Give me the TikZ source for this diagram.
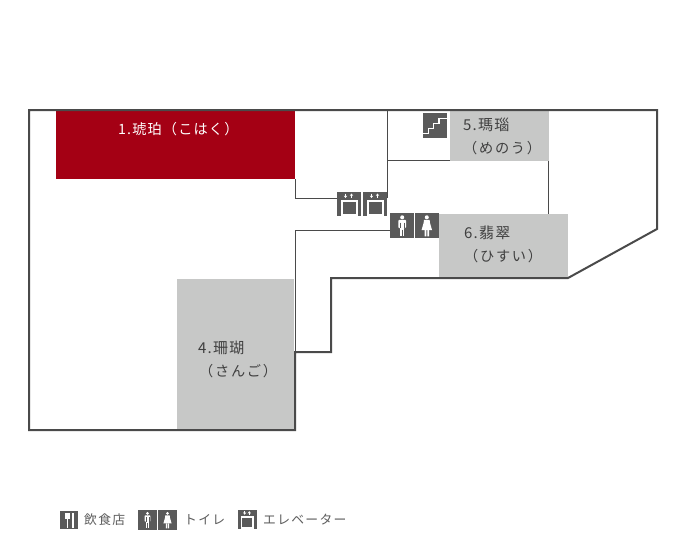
\documentclass[tikz,border=0pt]{standalone}
\usepackage{fontspec}
\usetikzlibrary{arrows.meta}
\newfontfamily\cjkn[LetterSpace=8]{Noto Sans CJK JP}
\newfontfamily\cjkw[LetterSpace=12]{Noto Sans CJK JP}
\newfontfamily\cjkl[LetterSpace=10]{Noto Sans CJK JP}
\definecolor{wallc}{HTML}{4A4A4A}
\definecolor{iconc}{HTML}{5A5A5A}
\definecolor{roomg}{HTML}{C7C8C7}
\definecolor{roomr}{HTML}{A40014}
\definecolor{labelc}{HTML}{3F3F3F}
\tikzset{
  wall/.style={draw=wallc,line width=2pt,line join=miter},
  thinwall/.style={draw=wallc,line width=1pt},
  roomlabel/.style={anchor=west,inner sep=0pt,text=labelc,font=\cjkw\fontsize{14.2}{14}\selectfont},
  roomtitle/.style={anchor=west,inner sep=0pt,text=labelc,font=\cjkn\fontsize{15}{15}\selectfont},
  firstlabel/.style={anchor=west,inner sep=0pt,text=white,font=\cjkn\fontsize{14.2}{14}\selectfont},
  legendlabel/.style={anchor=west,inner sep=0pt,text=labelc!85,font=\cjkl\fontsize{12.8}{13}\selectfont},
  liftarrow/.style={white,line width=0.7pt,-{Stealth[length=2.4pt,width=3.4pt]}},
}
\newcommand{\elevicon}[2]{%
  \begin{scope}[shift={(#1,#2)}]
    \fill[iconc] (0,0) rectangle (24,24);
    \draw[white,line width=1.8pt] (4.6,8.6) rectangle (19.6,22.6);
    \draw[liftarrow] (8.5,1.5) -- (8.5,6);
    \draw[liftarrow] (14.5,6) -- (14.5,1.5);
  \end{scope}}
\newcommand{\manicon}[2]{%
  \begin{scope}[shift={(#1,#2)}]
    \fill[iconc] (0,0) rectangle (24,25);
    \fill[white] (12.2,4.3) circle (2);
    \fill[white,rounded corners=0.8pt] (8.4,6.8) rectangle (16,15);
    \fill[white] (10,13) rectangle (14.4,23.4);
    \draw[iconc,line width=0.5pt] (12.2,16.5) -- (12.2,23.4);
    \draw[iconc,line width=0.5pt] (10,9.5) -- (10,15) (14.4,9.5) -- (14.4,15);
  \end{scope}}
\newcommand{\womanicon}[2]{%
  \begin{scope}[shift={(#1,#2)}]
    \fill[iconc] (0,0) rectangle (24,25);
    \fill[white] (11.8,4.3) circle (2);
    \fill[white] (9,6.8) -- (14.6,6.8) -- (15,10) -- (17,17) -- (6.6,17) -- (8.6,10) -- cycle;
    \fill[white] (9.6,17) rectangle (11.3,23.4) (12.3,17) rectangle (14,23.4);
  \end{scope}}
\begin{document}
\begin{tikzpicture}[x=1pt,y=-1pt]
\useasboundingbox (0,0) rectangle (680,555);
% rooms
\fill[roomr] (56,111) rectangle (295,179);
\fill[roomg] (177,279) rectangle (294,430);
\fill[roomg] (450,111) rectangle (549,161);
\fill[roomg] (439,214) rectangle (568,278);
% thin walls
\draw[thinwall] (295,179) -- (295,198) -- (337,198);
\draw[thinwall] (387,110) -- (387,198);
\draw[thinwall] (387,160) -- (450,160);
\draw[thinwall] (548,161) -- (548,214);
\draw[thinwall] (295,352) -- (295,230) -- (390,230);
% outline
\draw[wall] (29,110) -- (657,110) -- (657,229) -- (568,278) -- (331,278) -- (331,352) -- (295,352) -- (295,430) -- (29,430) -- cycle;
% icons on the plan
\elevicon{337}{192}
\elevicon{363}{192}
\manicon{390}{213}
\womanicon{415}{213}
% stairs
\fill[iconc] (423,113) rectangle (447,138);
\draw[white,line width=1.7pt] (423,133.5) -- (428.5,133.5) -- (428.5,128.5) -- (433.5,128.5) -- (433.5,123.5) -- (439,123.5) -- (439,118.5) -- (447,118.5);
% labels
\node[firstlabel] (n1) at (118,129) {1.琥珀（こはく）};
\node[roomtitle] (n5) at (463,125) {5.瑪瑙};
\node[roomlabel] (n5b) at (463,148) {（めのう）};
\node[roomtitle] (n6) at (464,233) {6.翡翠};
\node[roomlabel] (n6b) at (464,256) {（ひすい）};
\node[roomtitle] (n4) at (198,348) {4.珊瑚};
\node[roomlabel] (n4b) at (199,371) {（さんご）};
% legend
\fill[iconc] (60,511) rectangle (78,529);
\fill[white] (65.2,512.5) rectangle (69.6,519);
\fill[white] (66.6,519) rectangle (68.2,528);
\fill[white] (72,512.5) rectangle (73.6,528);
\begin{scope}[shift={(138,510)},scale=0.78]
  \manicon{0}{0}
  \womanicon{26}{0}
\end{scope}
\begin{scope}[shift={(238,510)},scale=0.78]
  \elevicon{0}{0}
\end{scope}
\node[legendlabel] (l1) at (84,520) {飲食店};
\node[legendlabel] (l2) at (184,520) {トイレ};
\node[legendlabel] (l3) at (263,520) {エレベーター};
\end{tikzpicture}
\end{document}
